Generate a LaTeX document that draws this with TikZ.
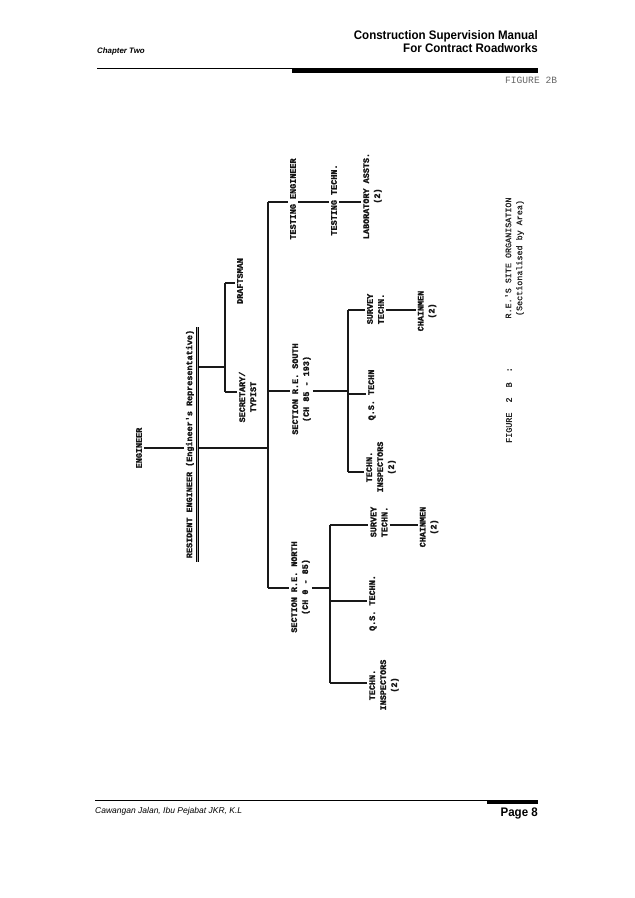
\documentclass[tikz,border=0pt]{standalone}
\usepackage{fontspec}
\setmainfont{Liberation Sans}
\newfontfamily\hdrfont{Liberation Sans}[FakeStretch=0.93]
\newfontfamily\orgmono{Liberation Mono}[BoldFeatures={FakeBold=1.6}]
\newfontfamily\capmono{Liberation Mono}[FakeBold=1.2]
\begin{document}
\begin{tikzpicture}[x=1pt,y=-1pt,
  lbl/.style={rotate=90, align=center, inner sep=2pt,
    font=\orgmono\bfseries\fontsize{8.45}{11}\selectfont, text=black!92},
  caplbl/.style={rotate=90, align=center, inner sep=2pt,
    font=\capmono\fontsize{8.4}{11}\selectfont, text=black!85},
  conn/.style={line width=1.3pt, draw=black!90},
  hdr/.style={inner sep=0pt, font=\hdrfont\bfseries\fontsize{12.4}{14}\selectfont}]
\fill[white] (0,0) rectangle (635,898);
\useasboundingbox (0,0) rectangle (635,898);

% ---------- page header ----------
\node[hdr, anchor=base east] (h1) at (538,39.5) {Construction Supervision Manual};
\node[hdr, anchor=base east] (h2) at (538,52) {For Contract Roadworks};
\node[anchor=base west, inner sep=0pt, font=\bfseries\itshape\fontsize{7.9}{9}\selectfont] (chap) at (97,53) {Chapter Two};
\coordinate (hlA) at (97,68);
\coordinate (hlB) at (292,68);
\draw[line width=0.8pt] (hlA) -- (hlB);
\fill (292,67.5) rectangle (538,72.5);
\node[anchor=base west, inner sep=0pt, font=\orgmono\fontsize{9.6}{11}\selectfont, text=black!60] (figtop) at (505,83) {FIGURE 2B};

% ---------- page footer ----------
\coordinate (flA) at (95,800);
\coordinate (flB) at (538,800);
\draw[line width=0.8pt] (flA) -- (flB);
\fill (487,799.6) rectangle (538,804.2);
\node[anchor=base west, inner sep=0pt, font=\itshape\fontsize{8.5}{10}\selectfont] (foot) at (95,813) {Cawangan Jalan, Ibu Pejabat JKR, K.L};
\node[hdr, anchor=base east] (page) at (538,816) {Page 8};

% ---------- organisation chart nodes ----------
\node[lbl] (eng) at (139,448) {ENGINEER};
\node[lbl] (re) at (190,444) {RESIDENT ENGINEER (Engineer\textquotesingle s Representative)};
\node[lbl] (draft) at (240,281) {DRAFTSMAN};
\node[lbl] (sec) at (247.5,397) {SECRETARY/\\TYPIST};
\node[lbl] (test) at (293,199) {TESTING ENGINEER};
\node[lbl] (ttech) at (334,200) {TESTING TECHN.};
\node[lbl] (lab) at (372.5,196) {LABORATORY ASSTS.\\(2)};
\node[lbl] (south) at (301.5,389) {SECTION R.E. SOUTH\\(CH 85 - 193)};
\node[lbl] (north) at (300.5,587) {SECTION R.E. NORTH\\(CH 0 - 85)};
\node[lbl] (ssurv) at (375.5,309) {SURVEY\\TECHN.};
\node[lbl] (schain) at (427,311) {CHAINMEN\\(2)};
\node[lbl] (sqs) at (372,395) {Q.S. TECHN};
\node[lbl] (sinsp) at (381,467) {TECHN.\\INSPECTORS\\(2)};
\node[lbl] (nsurv) at (379,522) {SURVEY\\TECHN.};
\node[lbl] (nchain) at (429,527) {CHAINMEN\\(2)};
\node[lbl] (nqs) at (373,603) {Q.S. TECHN.};
\node[lbl] (ninsp) at (384,685) {TECHN.\\INSPECTORS\\(2)};

% caption
\node[caplbl] (capfig) at (509,405) {FIGURE~~2~~B~~:};
\node[caplbl] (captxt) at (514.5,258) {R.E.\textquotesingle S SITE ORGANISATION\\(Sectionalised by Area)};

% ---------- connectors ----------
% double underline of the resident engineer
\coordinate (ulT) at (197.5,327);
\coordinate (ulB) at (197.5,562);
\draw[line width=1.2pt, double=black!35, double distance=0.5pt] (ulT) -- (ulB);

% engineer -> resident engineer
\draw[conn] (eng.south) -- (eng.south -| re.north);

% resident engineer -> spine
\coordinate (reU) at (199,448);
\coordinate (spM) at (268,448);
\draw[conn] (reU) -- (spM);
\coordinate (spT) at (268,202);
\coordinate (spB) at (268,588);
\draw[conn] (spT) -- (spB);

% secretary / draftsman branch
\coordinate (reS) at (199,367);
\coordinate (sbM) at (225,367);
\coordinate (sbT) at (225,283);
\coordinate (sbB) at (225,392);
\draw[conn] (reS) -- (sbM);
\draw[conn] (sbT) -- (sbB);
\draw[conn] (sbT) -- (sbT -| draft.north);
\draw[conn] (sbB) -- (sbB -| sec.north);

% testing branch
\draw[conn] (spT) -- (spT -| test.north);
\draw[conn] (test.south |- spT) -- (spT -| ttech.north);
\draw[conn] (ttech.south |- spT) -- (spT -| lab.north);

% south section branch
\coordinate (soJ) at (268,391);
\coordinate (svM) at (348,391);
\coordinate (svT) at (348,310);
\coordinate (svQ) at (348,394);
\coordinate (svB) at (348,472);
\draw[conn] (soJ) -- (soJ -| south.north);
\draw[conn] (south.south |- soJ) -- (svM);
\draw[conn] (svT) -- (svB);
\draw[conn] (svT) -- (svT -| ssurv.north);
\draw[conn] (svQ) -- (svQ -| sqs.north);
\draw[conn] (svB) -- (svB -| sinsp.north);
\draw[conn] (ssurv.south |- svT) -- (svT -| schain.north);

% north section branch
\coordinate (nvM) at (330,588);
\coordinate (nvT) at (330,525);
\coordinate (nvQ) at (330,601);
\coordinate (nvB) at (330,683);
\draw[conn] (spB) -- (spB -| north.north);
\draw[conn] (north.south |- spB) -- (nvM);
\draw[conn] (nvT) -- (nvB);
\draw[conn] (nvT) -- (nvT -| nsurv.north);
\draw[conn] (nvQ) -- (nvQ -| nqs.north);
\draw[conn] (nvB) -- (nvB -| ninsp.north);
\draw[conn] (nsurv.south |- nvT) -- (nvT -| nchain.north);
\end{tikzpicture}
\end{document}
